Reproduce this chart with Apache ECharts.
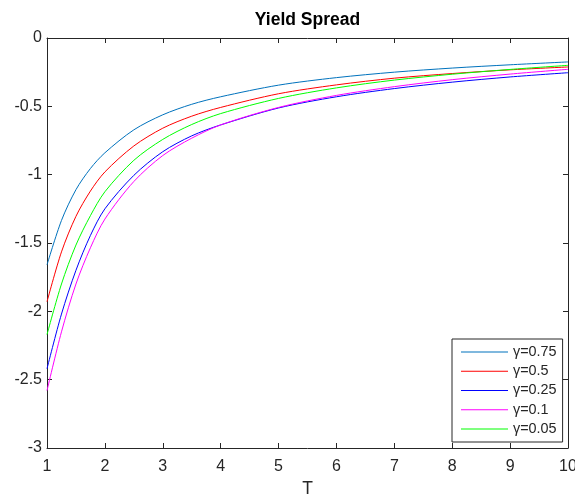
<!DOCTYPE html>
<html>
<head>
<meta charset="utf-8">
<title>Yield Spread</title>
<script src="https://cdn.jsdelivr.net/npm/echarts@6/dist/echarts.min.js"></script>
<style>
  html, body { margin: 0; padding: 0; background: #fff; }
  #chart { width: 575px; height: 495px; }
</style>
</head>
<body>
<div id="chart"></div>
<script>
// Maturities (T) at which each curve is sampled
const maturities = [1, 1.25, 1.5, 1.75, 2, 2.5, 3, 3.5, 4, 5, 6, 7, 8, 9, 10];

// Yield spread for each gamma
const spreadG075 = [-1.66, -1.335, -1.11, -0.955, -0.84, -0.672, -0.562, -0.485, -0.43, -0.345, -0.29, -0.25, -0.22, -0.196, -0.175];
const spreadG050 = [-1.93, -1.565, -1.305, -1.12, -0.98, -0.79, -0.66, -0.572, -0.508, -0.408, -0.343, -0.294, -0.26, -0.233, -0.212];
const spreadG025 = [-2.42, -2.02, -1.70, -1.445, -1.25, -1.005, -0.832, -0.716, -0.636, -0.512, -0.43, -0.37, -0.323, -0.285, -0.254];
const spreadG010 = [-2.58, -2.15, -1.80, -1.535, -1.325, -1.05, -0.86, -0.733, -0.636, -0.508, -0.42, -0.356, -0.305, -0.264, -0.229];
const spreadG005 = [-2.17, -1.80, -1.515, -1.30, -1.125, -0.895, -0.742, -0.633, -0.553, -0.442, -0.365, -0.308, -0.265, -0.23, -0.20];

const seriesNames = ['γ=0.75', 'γ=0.5', 'γ=0.25', 'γ=0.1', 'γ=0.05'];
const seriesValues = [spreadG075, spreadG050, spreadG025, spreadG010, spreadG005];
const seriesColors = ['#0072BD', '#FF0000', '#0000FF', '#FF00FF', '#00FF00'];

const FONT = '"Liberation Sans", Arial, Helvetica, sans-serif';
const INK = '#262626';

const chart = echarts.init(document.getElementById('chart'), null, { renderer: 'canvas' });

function boxAxis(extra) {
  return Object.assign({
    type: 'value',
    axisLine: { show: true, onZero: false, lineStyle: { color: INK, width: 1 } },
    axisTick: { show: true, inside: true, length: 5, lineStyle: { color: INK, width: 1 } },
    splitLine: { show: false },
    axisLabel: { show: false }
  }, extra);
}

chart.setOption({
  animation: false,
  backgroundColor: '#ffffff',
  textStyle: { fontFamily: FONT },
  title: {
    text: 'Yield Spread',
    left: 307.5,
    top: 11,
    padding: 0,
    textAlign: 'center',
    textStyle: { fontFamily: FONT, fontSize: 17.5, fontWeight: 'bold', color: '#000' }
  },
  grid: {
    left: 47, right: 7, top: 38, bottom: 47,
    containLabel: false,
    outerBoundsMode: 'none'
  },
  legend: {
    orient: 'vertical',
    left: 452,
    top: 339,
    icon: 'rect',
    itemWidth: 47,
    itemHeight: 1.2,
    itemGap: 3.25,
    padding: [5, 6, 5, 9],
    borderColor: INK,
    borderWidth: 1,
    borderRadius: 0,
    backgroundColor: '#ffffff',
    textStyle: { fontFamily: FONT, fontSize: 14.4, lineHeight: 16, color: INK },
    data: seriesNames
  },
  xAxis: [
    boxAxis({
      position: 'bottom',
      min: 1, max: 10, interval: 1,
      name: 'T',
      nameLocation: 'middle',
      nameGap: 29,
      nameTextStyle: { fontFamily: FONT, fontSize: 17.5, color: INK },
      axisLabel: { show: true, margin: 11, fontFamily: FONT, fontSize: 16, color: INK }
    }),
    boxAxis({ position: 'top', min: 1, max: 10, interval: 1 })
  ],
  yAxis: [
    boxAxis({
      position: 'left',
      min: -3, max: 0, interval: 0.5,
      axisLabel: { show: true, margin: 5, fontFamily: FONT, fontSize: 16, color: INK }
    }),
    boxAxis({ position: 'right', min: -3, max: 0, interval: 0.5 })
  ],
  series: seriesNames.map((name, i) => ({
    name: name,
    type: 'line',
    xAxisIndex: 0,
    yAxisIndex: 0,
    showSymbol: false,
    smooth: 0.3,
    color: seriesColors[i],
    lineStyle: { width: 1, color: seriesColors[i] },
    data: maturities.map((t, k) => [t, seriesValues[i][k]])
  }))
});
</script>
</body>
</html>
